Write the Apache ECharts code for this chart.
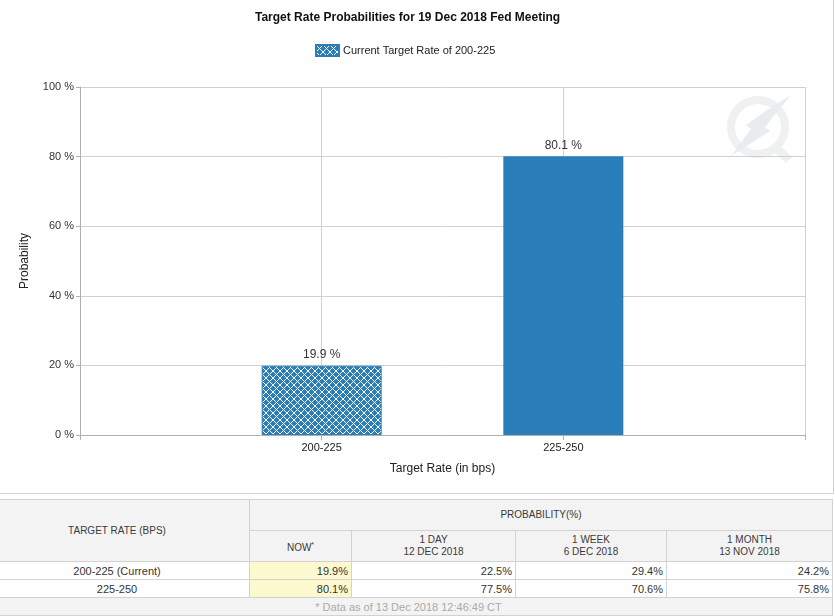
<!DOCTYPE html>
<html>
<head>
<meta charset="utf-8">
<script src="https://cdn.jsdelivr.net/npm/echarts@6/dist/echarts.min.js"></script>
<style>
  html, body { margin: 0; padding: 0; background: #fff; width: 835px; height: 616px; overflow: hidden; position: relative; }
  #chart { position: absolute; left: 0; top: 0; width: 833px; height: 493px; border-right: 1px solid #d4d4d4; border-bottom: 1px solid #d4d4d4; }
  #tbl { position: absolute; left: -16px; top: 499px; width: 848px; border-collapse: collapse; font-family: Arial, "Liberation Sans", sans-serif; font-size: 11px; color: #333; table-layout: fixed; }
  #tbl td, #tbl th { border: 1px solid #d2d2d2; padding: 0 3px; }
  #tbl th { background: #f3f3f3; font-weight: normal; font-size: 10px; color: #3a3a3a; text-align: center; line-height: 12px; }
  #tbl tr.h1 th { height: 30px; }
  #tbl tr.h2 th { height: 30px; }
  #tbl tr.d td { height: 17px; text-align: right; }
  #tbl tr.d td.c { text-align: center; }
  #tbl td.now { background: #fcf9cf; }
  #tbl tr.f td { height: 17px; background: #f3f3f3; color: #aaa; text-align: center; }
  sup { font-size: 7px; vertical-align: 4px; }
</style>
</head>
<body>
<div id="chart"></div>
<table id="tbl"></table>
<script>
// ---- data ----
const categories = ['200-225', '225-250'];
const rowLabels = ['200-225 (Current)', '225-250'];
const probNow = [19.9, 80.1];
const prob1Day = [22.5, 77.5];
const prob1Week = [29.4, 70.6];
const prob1Month = [24.2, 75.8];
const yTicks = [0, 20, 40, 60, 80, 100];
const colHeaders = [['NOW', ''], ['1 DAY', '12 DEC 2018'], ['1 WEEK', '6 DEC 2018'], ['1 MONTH', '13 NOV 2018']];
const currentIndex = 0;
const footnote = '* Data as of 13 Dec 2018 12:46:49 CT';

// ---- hatch pattern ----
const BLUE = '#2a7fba';
const P = 7;
const pc = document.createElement('canvas');
pc.width = P; pc.height = P;
const g = pc.getContext('2d');
g.fillStyle = BLUE; g.fillRect(0, 0, P, P);
g.strokeStyle = '#ffffff'; g.lineWidth = 1;
g.beginPath();
g.moveTo(0, 0); g.lineTo(P, P);
g.moveTo(P, 0); g.lineTo(0, P);
g.stroke();

const axisCats = [''].concat(categories, ['']);
const curData = axisCats.map((c, i) => (i - 1 === currentIndex ? probNow[i - 1] : null));
const otherData = axisCats.map((c, i) => (i >= 1 && i <= categories.length && i - 1 !== currentIndex ? probNow[i - 1] : null));

const chart = echarts.init(document.getElementById('chart'), null, { renderer: 'canvas' });
const FONT = 'Arial, "Liberation Sans", sans-serif';
chart.setOption({
  animation: false,
  textStyle: { fontFamily: FONT },
  title: {
    text: 'Target Rate Probabilities for 19 Dec 2018 Fed Meeting',
    left: 250, top: 7,
    textStyle: { fontSize: 12, fontWeight: 'bold', color: '#111', fontFamily: FONT }
  },
  legend: {
    data: ['Current Target Rate of 200-225'],
    left: 315, top: 44, padding: 0,
    itemWidth: 23, itemHeight: 11, itemGap: 5,
    icon: 'rect',
    textStyle: { fontSize: 11, color: '#222', padding: [0, 0, 0, -1] }
  },
  grid: { left: 80, right: 28, top: 87, bottom: 58 },
  xAxis: {
    type: 'category',
    data: axisCats,
    boundaryGap: false,
    name: 'Target Rate (in bps)',
    nameLocation: 'middle',
    nameGap: 28,
    nameTextStyle: { fontSize: 12, color: '#222' },
    axisLine: { lineStyle: { color: '#b0b0b0' } },
    axisTick: { show: true, length: 5, lineStyle: { color: '#b0b0b0' } },
    axisLabel: { fontSize: 11, color: '#222', margin: 7, interval: 0 },
    splitLine: { show: true, lineStyle: { color: '#d0d0d0' } }
  },
  yAxis: {
    type: 'value',
    min: yTicks[0], max: yTicks[yTicks.length - 1], interval: 20,
    name: 'Probability',
    nameLocation: 'middle',
    nameGap: 49,
    nameRotate: 90,
    nameTextStyle: { fontSize: 12, color: '#222' },
    axisLine: { show: true, lineStyle: { color: '#b0b0b0' } },
    axisTick: { show: true, length: 4, lineStyle: { color: '#b0b0b0' } },
    axisLabel: { fontSize: 11, color: '#333', margin: 6, formatter: '{value} %' },
    splitLine: { show: true, lineStyle: { color: '#d0d0d0' } }
  },
  series: [
    {
      name: 'Current Target Rate of 200-225',
      type: 'bar',
      data: curData,
      barWidth: 120,
      barGap: '-100%',
      itemStyle: { color: { image: pc, repeat: 'repeat' }, borderColor: BLUE, borderWidth: 1 },
      label: { show: true, position: 'top', distance: 5, fontSize: 12, color: '#333', formatter: p => p.value + ' %' }
    },
    {
      name: 'Other',
      type: 'bar',
      data: otherData,
      barWidth: 120,
      barGap: '-100%',
      itemStyle: { color: BLUE },
      label: { show: true, position: 'top', distance: 5, fontSize: 12, color: '#333', formatter: p => p.value + ' %' }
    }
  ],
  graphic: [
    { type: 'circle', shape: { cx: 758, cy: 127, r: 27 }, style: { fill: 'none', stroke: '#eef0f2', lineWidth: 8 }, silent: true, z: 0 },
    { type: 'polygon', shape: { points: [[791, 95], [765, 127], [770, 131], [731, 156], [751, 129], [746, 125], [770, 108]] }, style: { fill: '#e9ecef', stroke: 'none' }, silent: true, z: 0 },
    { type: 'line', shape: { x1: 775, y1: 147, x2: 789, y2: 160 }, style: { stroke: '#eef0f2', lineWidth: 9 }, silent: true, z: 0 }
  ]
});

// ---- table ----
const tbl = document.getElementById('tbl');
let html = '<colgroup><col style="width:265px"><col style="width:102px"><col style="width:164px"><col style="width:151px"><col style="width:166px"></colgroup>';
html += '<tr class="h1"><th rowspan="2">TARGET RATE (BPS)</th><th colspan="4">PROBABILITY(%)</th></tr>';
html += '<tr class="h2">' + colHeaders.map((h, i) => i === 0 ? '<th>' + h[0] + '<sup>*</sup></th>' : '<th>' + h[0] + '<br>' + h[1] + '</th>').join('') + '</tr>';
rowLabels.forEach((r, i) => {
  html += '<tr class="d"><td class="c">' + r + '</td><td class="now">' + probNow[i].toFixed(1) + '%</td><td>' + prob1Day[i].toFixed(1) + '%</td><td>' + prob1Week[i].toFixed(1) + '%</td><td>' + prob1Month[i].toFixed(1) + '%</td></tr>';
});
html += '<tr class="f"><td colspan="5">' + footnote + '</td></tr>';
tbl.innerHTML = html;
</script>
</body>
</html>
